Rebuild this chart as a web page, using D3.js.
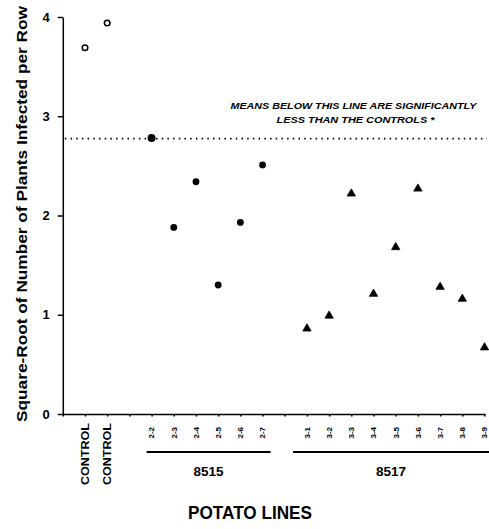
<!DOCTYPE html>
<html lang="en">
  <head>
    <meta charset="UTF-8" />
    <title>Potato Lines</title>
    <script src="https://d3js.org/d3.v7.min.js"></script>
    <style>
      body {
        margin: 0;
        background: #fff;
      }
      svg {
        display: block;
        font-family: "Liberation Sans", Arial, sans-serif;
      }
      .axis path,
      .axis line {
        stroke: #000;
        stroke-width: 1.5;
      }
    </style>
  </head>
  <body>
    <svg id="chart" width="489" height="529"></svg>

    <script>
      // values
      const controlLabels = ["CONTROL", "CONTROL"];
      const controlValues = [3.69, 3.94];

      const group8515Labels = ["2-2", "2-3", "2-4", "2-5", "2-6", "2-7"];
      const group8515Values = [2.78, 1.88, 2.34, 1.3, 1.93, 2.51];

      const group8517Labels = ["3-1", "3-2", "3-3", "3-4", "3-5", "3-6", "3-7", "3-8", "3-9"];
      const group8517Values = [0.86, 0.99, 2.22, 1.21, 1.68, 2.27, 1.28, 1.16, 0.67];

      const yTicks = [0, 1, 2, 3, 4];
      const threshold = 2.775;

      const svg = d3.select("#chart");

      // slots: 0 = origin, controls 1-2, gap, 8515 at 4-9, gap, 8517 at 11-19
      const controls = controlLabels.map((l, i) => ({ label: l, value: controlValues[i], slot: 1 + i }));
      const g8515 = group8515Labels.map((l, i) => ({ label: l, value: group8515Values[i], slot: 4 + i }));
      const g8517 = group8517Labels.map((l, i) => ({ label: l, value: group8517Values[i], slot: 11 + i }));
      const nSlots = 19;

      const x = d3.scaleLinear().domain([0, nSlots]).range([62.8, 484.5]);
      const y = d3.scaleLinear().domain([0, 4]).range([414, 17]);

      // y axis
      const yAxis = svg
        .append("g")
        .attr("class", "axis")
        .attr("transform", `translate(${x(0)},0)`)
        .call(d3.axisLeft(y).tickValues(yTicks).tickSize(5).tickSizeOuter(0).tickPadding(8).tickFormat(d3.format("d")));
      yAxis
        .selectAll("text")
        .attr("font-size", 13)
        .attr("font-weight", "bold")
        .attr("font-family", "'Liberation Sans', Arial, sans-serif");

      // x axis (ticks only)
      svg
        .append("g")
        .attr("class", "axis")
        .attr("transform", `translate(0,${y(0)})`)
        .call(d3.axisBottom(x).tickValues(d3.range(0, nSlots + 1)).tickSize(2.5).tickSizeOuter(0).tickFormat(""));

      // threshold line
      svg
        .append("line")
        .attr("x1", x(0) + 2)
        .attr("x2", 487)
        .attr("y1", y(threshold))
        .attr("y2", y(threshold))
        .attr("stroke", "#000")
        .attr("stroke-width", 1.6)
        .attr("stroke-dasharray", "1.5,4.2");

      // annotation
      const note = svg
        .append("g")
        .attr("font-weight", "bold")
        .attr("font-style", "italic")
        .attr("font-size", 8.5)
        .attr("text-anchor", "middle");
      note
        .append("text")
        .attr("x", 353.5)
        .attr("y", 109)
        .attr("textLength", 246)
        .attr("lengthAdjust", "spacingAndGlyphs")
        .text("MEANS BELOW THIS LINE ARE SIGNIFICANTLY");
      note
        .append("text")
        .attr("x", 355.5)
        .attr("y", 123)
        .attr("textLength", 158)
        .attr("lengthAdjust", "spacingAndGlyphs")
        .text("LESS THAN THE CONTROLS *");

      // controls: open circles
      svg
        .selectAll("circle.ctrl")
        .data(controls)
        .join("circle")
        .attr("class", "ctrl")
        .attr("cx", (d) => x(d.slot))
        .attr("cy", (d) => y(d.value))
        .attr("r", 2.8)
        .attr("fill", "#fff")
        .attr("stroke", "#000")
        .attr("stroke-width", 1.5);

      // 8515: filled dots
      svg
        .selectAll("circle.l8515")
        .data(g8515)
        .join("circle")
        .attr("class", "l8515")
        .attr("cx", (d) => x(d.slot))
        .attr("cy", (d) => y(d.value))
        .attr("r", (d, i) => (i === 0 ? 4 : 3.4))
        .attr("fill", "#000");

      // 8517: triangles
      svg
        .selectAll("path.l8517")
        .data(g8517)
        .join("path")
        .attr("class", "l8517")
        .attr("transform", (d) => `translate(${x(d.slot)},${y(d.value)})`)
        .attr("d", d3.symbol().type(d3.symbolTriangle).size(30))
        .attr("fill", "#000")
        .attr("stroke", "#000")
        .attr("stroke-width", 0.8)
        .attr("stroke-linejoin", "round");

      // rotated category labels
      svg
        .selectAll("text.ctrl-label")
        .data(controls)
        .join("text")
        .attr("class", "ctrl-label")
        .attr("transform", (d) => `translate(${x(d.slot) + 0.5},423) rotate(-90)`)
        .attr("dy", "0.35em")
        .attr("text-anchor", "end")
        .attr("font-size", 10.5)
        .attr("font-weight", "bold")
        .attr("textLength", 62)
        .attr("lengthAdjust", "spacingAndGlyphs")
        .text((d) => d.label);

      svg
        .selectAll("text.line-label")
        .data(g8515.concat(g8517))
        .join("text")
        .attr("class", "line-label")
        .attr("transform", (d) => `translate(${x(d.slot)},427) rotate(-90)`)
        .attr("dy", "0.35em")
        .attr("text-anchor", "end")
        .attr("font-size", 8)
        .attr("font-weight", "bold")
        .text((d) => d.label);

      // group brackets
      const groups = [
        { name: "8515", x1: x(4) - 5, x2: x(9) + 8 },
        { name: "8517", x1: x(11) - 14, x2: 489 },
      ];
      svg
        .selectAll("line.group")
        .data(groups)
        .join("line")
        .attr("class", "group")
        .attr("x1", (d) => d.x1)
        .attr("x2", (d) => d.x2)
        .attr("y1", 452)
        .attr("y2", 452)
        .attr("stroke", "#000")
        .attr("stroke-width", 2);
      svg
        .selectAll("text.group")
        .data(groups)
        .join("text")
        .attr("class", "group")
        .attr("x", (d) => (d.x1 + d.x2) / 2)
        .attr("y", 476)
        .attr("text-anchor", "middle")
        .attr("font-size", 13.5)
        .attr("font-weight", "bold")
        .text((d) => d.name);

      // axis titles
      svg
        .append("text")
        .attr("x", 250)
        .attr("y", 519)
        .attr("text-anchor", "middle")
        .attr("font-size", 19)
        .attr("font-weight", "bold")
        .attr("textLength", 124)
        .attr("lengthAdjust", "spacingAndGlyphs")
        .text("POTATO LINES");

      svg
        .append("text")
        .attr("transform", "translate(27,214) rotate(-90)")
        .attr("text-anchor", "middle")
        .attr("font-size", 14)
        .attr("font-weight", "bold")
        .attr("textLength", 416)
        .attr("lengthAdjust", "spacingAndGlyphs")
        .text("Square-Root of Number of Plants Infected per Row");
    </script>
  </body>
</html>
